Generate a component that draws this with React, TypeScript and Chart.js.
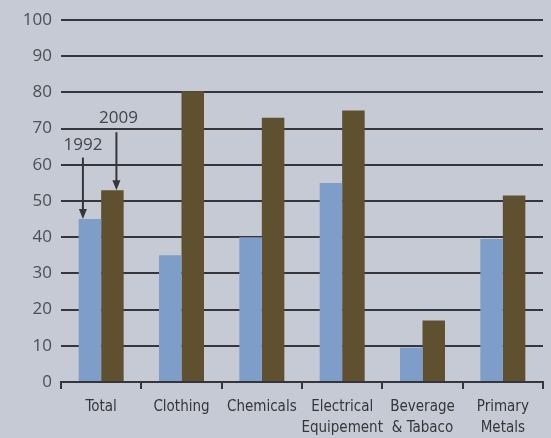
import React, { useEffect, useRef } from "react";
import { Chart, registerables } from "chart.js";

Chart.register(...registerables);

const categories: (string | string[])[] = [
  "Total",
  "Clothing",
  "Chemicals",
  ["Electrical", "Equipement"],
  ["Beverage", "& Tabaco"],
  ["Primary", "Metals"],
];
const values1992 = [45, 35, 40, 55, 9.5, 39.5];
const values2009 = [53, 80.3, 73, 75, 17, 51.5];
const yTicks = [0, 10, 20, 30, 40, 50, 60, 70, 80, 90, 100];

const BG = "#c5cad4";
const BLUE = "#7f9dc9";
const BROWN = "#5f5030";
const INK = "#35353b";

const annotationPlugin = {
  id: "yearArrows",
  afterDatasetsDraw(chart: any) {
    const ctx = chart.ctx;
    const y = chart.scales.y;
    const b92 = chart.getDatasetMeta(0).data[0];
    const b09 = chart.getDatasetMeta(1).data[0];
    const items = [
      { label: "1992", bar: b92, dx: -7, tdx: 0, textAt: 65.3, from: 62 },
      { label: "2009", bar: b09, dx: 4, tdx: 2, textAt: 72.8, from: 69 },
    ];
    ctx.save();
    ctx.font = "17px 'Open Sans', sans-serif";
    ctx.strokeStyle = INK;
    ctx.lineWidth = 2;
    ctx.textAlign = "center";
    ctx.textBaseline = "middle";
    for (const it of items) {
      const x = it.bar.x + it.dx;
      ctx.fillStyle = "#44444a";
      ctx.fillText(it.label, x + it.tdx, y.getPixelForValue(it.textAt));
      const y0 = y.getPixelForValue(it.from);
      const y1 = it.bar.y;
      ctx.beginPath();
      ctx.moveTo(x, y0);
      ctx.lineTo(x, y1 - 8);
      ctx.stroke();
      ctx.beginPath();
      ctx.moveTo(x - 4, y1 - 10);
      ctx.lineTo(x + 4, y1 - 10);
      ctx.lineTo(x, y1);
      ctx.closePath();
      ctx.fillStyle = INK;
      ctx.fill();
    }
    ctx.restore();
  },
};

export default function App() {
  const ref = useRef<HTMLCanvasElement>(null);
  useEffect(() => {
    document.body.style.margin = "0";
    document.body.style.background = BG;
    const chart = new Chart(ref.current!, {
      type: "bar",
      data: {
        labels: categories,
        datasets: [
          { label: "1992", data: values1992, backgroundColor: BLUE },
          { label: "2009", data: values2009, backgroundColor: BROWN },
        ],
      },
      options: {
        animation: false,
        responsive: false,
        maintainAspectRatio: false,
        layout: { padding: { top: 20, right: 8, left: 0, bottom: 0 } },
        datasets: { bar: { categoryPercentage: 0.56, barPercentage: 1 } },
        plugins: { legend: { display: false }, tooltip: { enabled: false } },
        scales: {
          x: {
            grid: {
              display: true,
              offset: true,
              drawOnChartArea: false,
              drawTicks: true,
              tickLength: 7,
              color: INK,
              lineWidth: 2,
            },
            border: { display: true, color: INK, width: 2 },
            ticks: {
              color: "#36363a",
              font: { family: "'Liberation Sans Narrow', 'DejaVu Sans Condensed', sans-serif", size: 15, lineHeight: 1.4 },
              padding: 8,
              maxRotation: 0,
              autoSkip: false,
            },
            afterFit: (s: any) => {
              s.height = 56;
            },
          },
          y: {
            min: 0,
            max: 100,
            afterBuildTicks: (s: any) => {
              s.ticks = yTicks.map((v) => ({ value: v }));
            },
            grid: { color: INK, lineWidth: 2, drawTicks: false },
            border: { display: false },
            ticks: {
              color: "#4e4e55",
              font: { family: "'Open Sans', sans-serif", size: 17 },
              padding: 9,
            },
            afterFit: (s: any) => {
              s.width = 61;
            },
          },
        },
      },
      plugins: [annotationPlugin],
    });
    return () => chart.destroy();
  }, []);
  return (
    <div style={{ width: 551, height: 438, background: BG }}>
      <canvas ref={ref} width={551} height={438} />
    </div>
  );
}
